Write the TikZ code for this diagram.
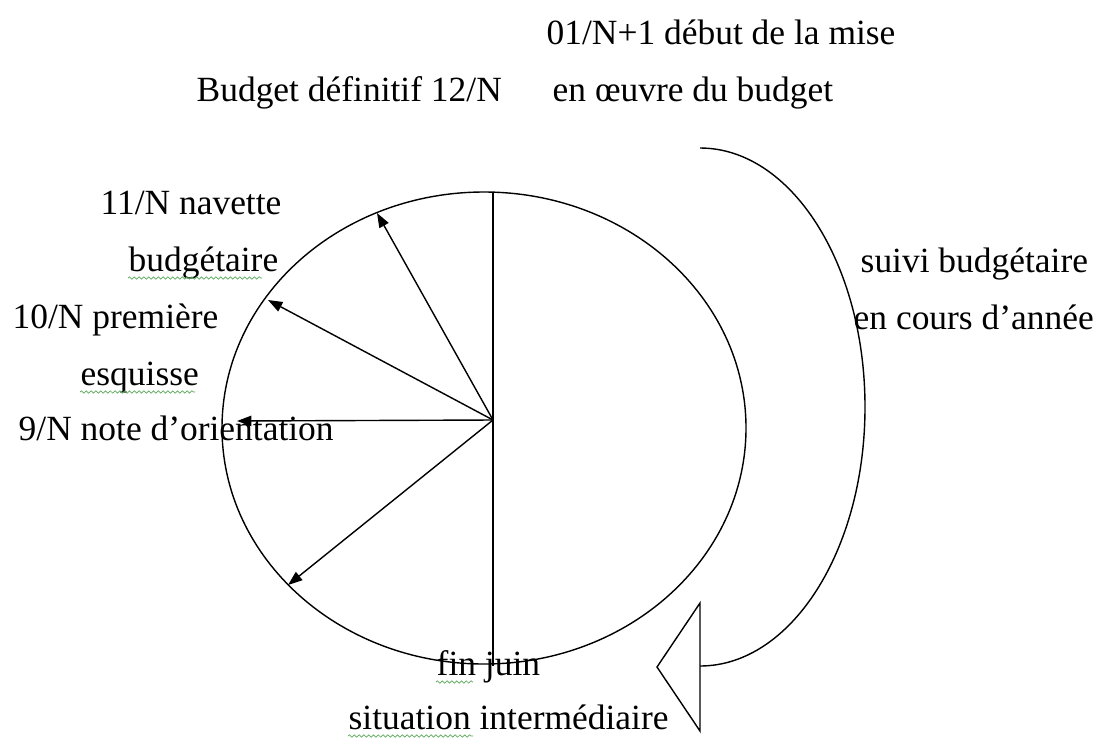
\documentclass[tikz,border=0pt]{standalone}
\usepackage{fontspec}
\setmainfont{Liberation Serif}
\usetikzlibrary{arrows.meta,decorations.pathmorphing}
\definecolor{spellgreen}{RGB}{90,170,90}

\begin{document}
\begin{tikzpicture}[x=0.025cm,y=-0.025cm,line width=1pt,
  every node/.style={font=\fontsize{25.2}{30}\selectfont,inner sep=0pt,anchor=base west},
  spoke/.style={-{Triangle[length=3.6mm,width=2.6mm]}},
  spell/.style={draw=spellgreen,line width=0.5pt,decorate,decoration={snake,segment length=1.2mm,amplitude=0.3mm}}]
\useasboundingbox (0,0) rectangle (1097,738);
% labels
\node (mise) at (546,44) {01/N+1 début de la mise};
\node (oeuvre) at (552,101) {en œuvre du budget};
\node (def) at (196,101) {Budget définitif 12/N};
\node (nav) at (100,214) {11/N navette};
\node (navb) at (128,271) {budgétaire};
\node (esq) at (12,328) {10/N première};
\node (esqb) at (80,385) {esquisse};
\node (orient) at (18,440) {9/N note d’orientation};
\node (suivi) at (860,272) {suivi budgétaire};
\node (cours) at (853,329) {en cours d’année};
\node (juin) at (436,675) {fin juin};
\node (situ) at (348,729) {situation intermédiaire};
\draw[spell] (128,278) -- (262,278);
\draw[spell] (80,392) -- (195,392);
\draw[spell] (436,682) -- (473,682);
\draw[spell] (348,736) -- (473,736);
% cycle
\draw (484,428) ellipse [x radius=262,y radius=236];
\coordinate (o) at (493,420);
\coordinate (top) at (493,192);
\coordinate (bot) at (493,666);
\coordinate (nov) at (377,213);
\coordinate (oct) at (268,300);
\coordinate (sep) at (237,421);
\coordinate (low) at (288,585);
\draw (top) -- (bot);
\draw[spoke] (o) -- (nov);
\draw[spoke] (o) -- (oct);
\draw[spoke] (o) -- (sep);
\draw[spoke] (o) -- (low);
% return
\coordinate (back) at (700,148);
\draw (back) arc [start angle=-90,end angle=90,x radius=165,y radius=259];
\draw (700,603) -- (657,667) -- (700,731) -- cycle;
\end{tikzpicture}
\end{document}
